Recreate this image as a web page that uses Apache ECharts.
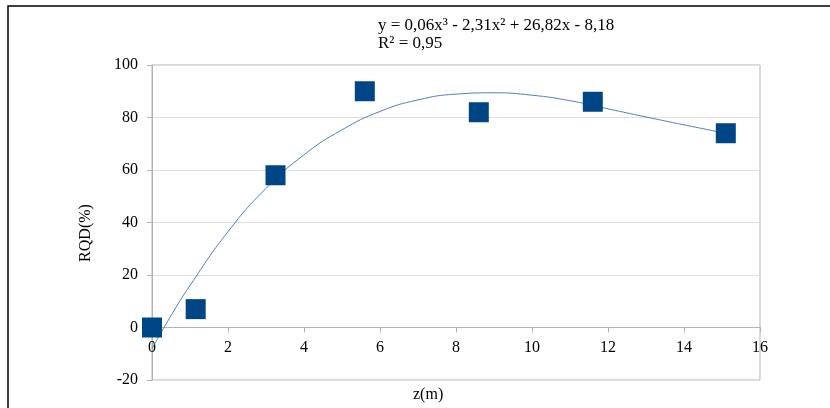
<!DOCTYPE html>
<html>
<head>
<meta charset="utf-8">
<script src="https://cdn.jsdelivr.net/npm/echarts@6/dist/echarts.min.js"></script>
<style>html,body{margin:0;padding:0;background:#fff}#c{width:830px;height:408px}</style>
</head>
<body>
<div id="c"></div>
<script>
// Measured points (z in m, RQD in %)
var zValues = [0, 1.15, 3.25, 5.6, 8.6, 11.6, 15.1];
var rqdValues = [0, 7, 58, 90, 82, 86, 74];
// Trend line (cubic)
var trendZ = [0, 0.5, 1, 2, 3, 4, 5, 6, 7, 8, 9, 10, 11, 12, 13, 14, 15.1];
var trendRqd = [-8, 4.5, 16, 36.5, 53, 65.8, 75.3, 82.3, 86.7, 88.9, 89.4, 88.5, 86.4, 83.3, 80.2, 77.2, 74];
var xTicks = {min: 0, max: 16, interval: 2};
var yTicks = {min: -20, max: 100, interval: 20};
var equationText = 'y = 0,06x³ - 2,31x² + 26,82x - 8,18';
var r2Text = 'R² = 0,95';
var xName = 'z(m)';
var yName = 'RQD(%)';

var scatterData = zValues.map(function (z, i) { return [z, rqdValues[i]]; });
var trendData = trendZ.map(function (z, i) { return [z, trendRqd[i]]; });

var font = '"Liberation Serif", "DejaVu Serif", serif';
var gridTop = 65, gridBottom = 28, chartH = 408;
var plotH = chartH - gridTop - gridBottom;
// place the x axis at y = 0 (offset from the bottom edge of the plot)
var zeroOffset = -plotH * (0 - yTicks.min) / (yTicks.max - yTicks.min);

var chart = echarts.init(document.getElementById('c'), null, {renderer: 'canvas'});
chart.setOption({
  animation: false,
  backgroundColor: '#fff',
  grid: {left: 152, right: 70, top: gridTop, bottom: gridBottom, show: true, borderColor: '#b3b3b3', borderWidth: 1, backgroundColor: 'transparent'},
  xAxis: {
    type: 'value', min: xTicks.min, max: xTicks.max, interval: xTicks.interval,
    position: 'bottom', offset: zeroOffset,
    axisLine: {show: true, onZero: false, lineStyle: {color: '#b3b3b3', width: 1}},
    axisTick: {show: true, inside: false, length: 5, lineStyle: {color: '#b3b3b3'}},
    axisLabel: {color: '#000', fontFamily: font, fontSize: 16, margin: 12},
    splitLine: {show: false}
  },
  yAxis: {
    type: 'value', min: yTicks.min, max: yTicks.max, interval: yTicks.interval,
    axisLine: {show: true, lineStyle: {color: '#b3b3b3', width: 1}},
    axisTick: {show: true, inside: false, length: 5, lineStyle: {color: '#b3b3b3'}},
    axisLabel: {color: '#000', fontFamily: font, fontSize: 16, margin: 14},
    splitLine: {show: true, lineStyle: {color: '#e0e0e0', width: 1}}
  },
  graphic: [
    {type: 'rect', shape: {x: 8, y: 6, width: 840, height: 420}, style: {fill: 'none', stroke: '#000', lineWidth: 1.5}, silent: true},
    {type: 'text', left: 378, top: 17, style: {text: equationText, font: '17px ' + font, fill: '#000'}},
    {type: 'text', left: 378, top: 35, style: {text: r2Text, font: '17px ' + font, fill: '#000'}},
    {type: 'text', left: 413, top: 387, style: {text: xName, font: '16px ' + font, fill: '#000'}},
    {type: 'text', x: 86, y: 233, rotation: Math.PI / 2,
     style: {text: yName, font: '16px ' + font, fill: '#000', align: 'center', verticalAlign: 'middle'}}
  ],
  series: [
    {type: 'line', data: trendData, smooth: true, showSymbol: false, symbol: 'none',
     lineStyle: {color: '#4f81bd', width: 1}, z: 2},
    {type: 'scatter', data: scatterData, symbol: 'rect', symbolSize: 20,
     itemStyle: {color: '#004586', opacity: 1}, z: 3}
  ]
});
</script>
</body>
</html>
